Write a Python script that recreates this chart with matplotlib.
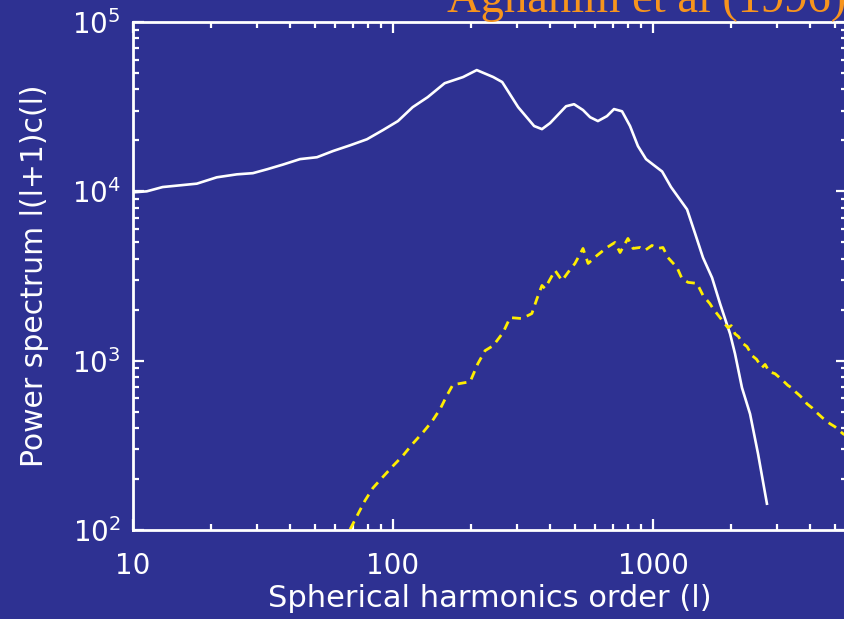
import numpy as np
import matplotlib
matplotlib.use("Agg")
import matplotlib.pyplot as plt
from matplotlib.ticker import LogLocator, FixedLocator, FixedFormatter, NullFormatter

# solid white curve (theory spectrum)
l_white = [10, 11.3, 13.0, 17.6, 21.0, 25.1, 28.9, 32.8, 37.8, 43.9, 51.0, 58.8,
           68.4, 79.4, 91.5, 104.5, 119, 136, 158, 186, 210, 243, 263, 303, 349,
           374, 402, 463, 497, 538, 573, 614, 665, 708, 760, 816, 875, 940, 1000,
           1084, 1173, 1352, 1452, 1557, 1687, 1811, 1979, 2067, 2199, 2362, 2535, 2743]
p_white = [9860, 10000, 10600, 11100, 12100, 12600, 12800, 13500, 14400, 15500, 15900, 17300,
           18700, 20300, 23000, 26000, 31400, 36000, 43500, 47300, 52000, 47300, 44200, 31400, 24300,
           23300, 25300, 31800, 32700, 30200, 27400, 26000, 27800, 30600, 29700, 24300, 18500, 15500, 14400,
           13100, 10600, 7820, 5630, 4060, 3090, 2170, 1440, 1100, 692, 485, 282, 143]

# dashed yellow curve
l_yellow = [68.4, 73.3, 78.0, 83.7, 90.7, 100, 109, 119, 130, 141, 152, 161, 170, 198,
            212, 226, 243, 265, 282, 313, 342, 358, 374, 384, 420, 447, 471, 501, 538,
            563, 609, 665, 714, 747, 801, 838, 891, 931, 991, 1045, 1092, 1142, 1237,
            1293, 1364, 1476, 1557, 1656, 1702, 1811, 1870, 1942, 2000, 2067, 2130, 2219,
            2300, 2404, 2500, 2626, 2700, 2800, 2946, 3050, 3162, 3300, 3453, 3550, 3673,
            3800, 3907, 4100, 4273, 4500, 4797, 5000, 5381, 5600]
p_yellow = [101, 124, 149, 177, 203, 239, 274, 323, 375, 436, 520, 621, 721, 751,
            960, 1146, 1227, 1465, 1796, 1773, 1897, 2328, 2780, 2670, 3410, 2970, 3320, 3750, 4600,
            3750, 4180, 4660, 4990, 4350, 5270, 4600, 4660, 4480, 4790, 4600, 4660, 4060, 3550,
            3050, 2900, 2860, 2430, 2170, 2030, 1796, 1680, 1567, 1610, 1440, 1390, 1262,
            1210, 1072, 1020, 910, 950, 860, 838, 800, 762, 715, 683, 650, 621,
            590, 557, 525, 492, 458, 424, 408, 370, 358]

x_ticks = [10, 100, 1000]
x_labels = ["10", "100", "1000"]

bg = "#2E3192"
plt.rcParams["font.family"] = ["DejaVu Sans"]
plt.rcParams["mathtext.fontset"] = "dejavusans"
plt.rcParams["mathtext.default"] = "regular"

fig = plt.figure(figsize=(8.45, 6.19), dpi=100, facecolor=bg)
ax = fig.add_axes([133/845, 89/619, (847-133)/845, (530-22)/619])
ax.set_facecolor(bg)

ax.plot(l_white, p_white, color="white", lw=1.9)
ax.plot(l_yellow, p_yellow, color="#FFEE00", lw=2.0, dashes=(3.2, 2.3))

ax.set_xscale("log")
ax.set_yscale("log")
ax.set_xlim(10, 10**(1 + (847-133)/260))
ax.set_ylim(100, 1e5)

for s in ax.spines.values():
    s.set_color("white")
    s.set_linewidth(2)

ax.xaxis.set_major_locator(FixedLocator(x_ticks))
ax.xaxis.set_major_formatter(FixedFormatter(x_labels))
ax.xaxis.set_minor_locator(LogLocator(base=10, subs=np.arange(2, 10)))
ax.xaxis.set_minor_formatter(NullFormatter())
ax.yaxis.set_minor_locator(LogLocator(base=10, subs=np.arange(2, 10)))
ax.yaxis.set_minor_formatter(NullFormatter())

ax.tick_params(which="both", direction="in", colors="white", top=True, right=True,
               width=1.6)
ax.tick_params(axis="x", labelsize=20, pad=16)
ax.tick_params(axis="y", labelsize=20, pad=9)
ax.tick_params(which="major", length=8)
ax.tick_params(which="minor", length=4.5)

ax.set_xlabel("Spherical harmonics order (l)", color="white", fontsize=22, labelpad=3)
ax.set_ylabel("Power spectrum l(l+1)c(l)", color="white", fontsize=21.5, labelpad=16)

fig.text(447/845, 1 - 12/619, "Aghanim et al (1996)", color="#F7941D",
         fontsize=33.5, family="Liberation Serif", va="baseline", ha="left")

fig.savefig("out.png", dpi=100, facecolor=bg)
